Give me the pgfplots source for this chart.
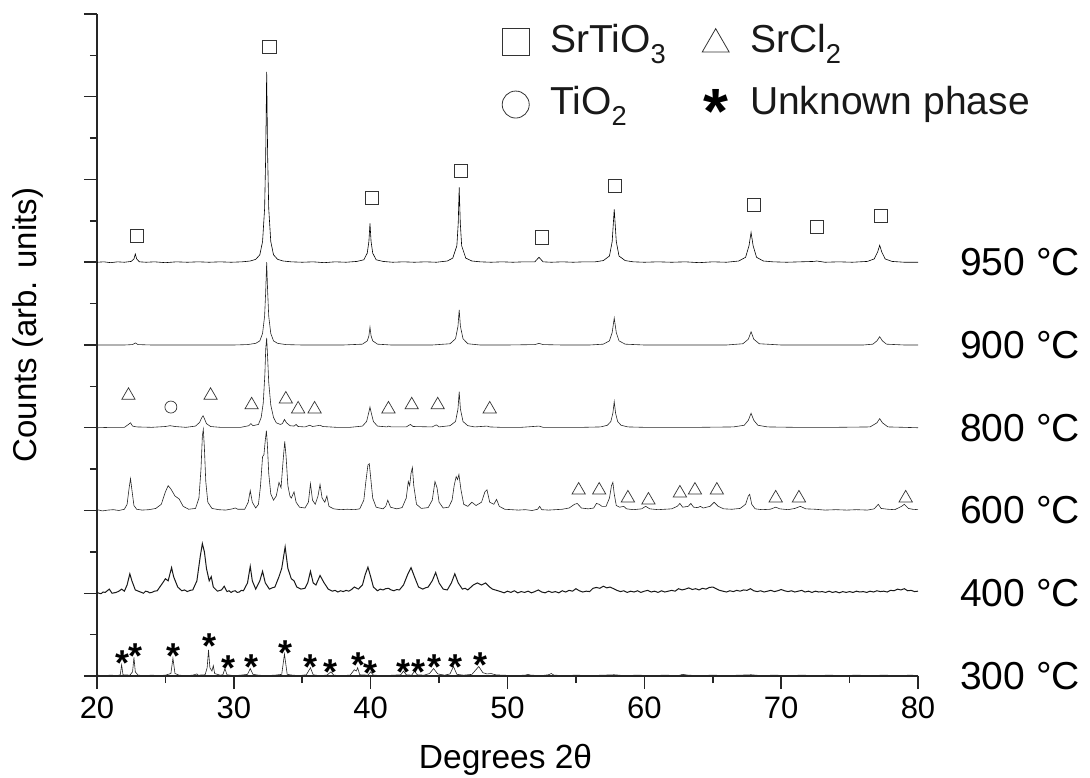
\documentclass[border=0pt]{standalone}
\usepackage{fontspec}
\setmainfont{Liberation Sans}
\usepackage{pgfplots}
\usepackage{pgfplotstable}
\pgfplotsset{compat=1.18}
\newcommand{\astmark}{\smash{\raisebox{-0.585em}{\bfseries *}}}
\begin{document}
\pgfplotstableread{
x y
20.0 10.00
20.5 10.01
21.0 9.99
21.5 10.01
22.0 10.00
22.5 10.02
22.7 10.08
22.8 10.20
22.9 10.08
23.1 10.01
23.6 10.00
24.2 10.01
25.0 9.99
25.8 10.01
26.6 10.00
27.4 10.01
28.2 10.00
29.0 10.01
29.8 10.00
30.6 10.01
31.2 10.03
31.6 10.07
31.9 10.18
32.1 10.5
32.25 11.3
32.33 12.6
32.4 14.6
32.47 12.6
32.55 11.3
32.7 10.5
32.9 10.18
33.2 10.07
33.6 10.03
34.2 10.01
35.0 10.00
35.8 10.01
36.6 9.99
37.4 10.01
38.2 10.00
39.0 10.02
39.5 10.06
39.75 10.22
39.87 10.5
39.95 10.94
40.03 10.5
40.15 10.22
40.4 10.06
40.9 10.02
41.6 10.00
42.4 10.01
43.2 10.00
44.0 10.01
44.8 10.00
45.6 10.03
46.0 10.1
46.3 10.4
46.4 10.95
46.47 11.81
46.55 10.95
46.65 10.4
46.95 10.1
47.4 10.03
48.0 10.01
48.8 10.00
49.6 10.01
50.4 10.00
51.2 10.01
52.0 10.01
52.3 10.12
52.6 10.01
53.2 10.00
54.0 10.01
54.8 10.00
55.6 10.01
56.4 10.01
57.0 10.04
57.45 10.15
57.65 10.5
57.8 11.28
57.95 10.5
58.15 10.15
58.6 10.04
59.2 10.01
60.0 10.00
61.0 10.01
62.0 10.00
63.0 10.01
64.0 9.99
65.0 10.01
66.0 10.00
66.9 10.03
67.4 10.12
67.65 10.4
67.8 10.72
67.95 10.4
68.2 10.12
68.7 10.03
69.4 10.01
70.4 10.00
71.4 10.01
72.4 10.02
72.6 10.03
73.2 10.00
74.2 10.01
75.2 10.00
76.3 10.02
76.8 10.08
77.05 10.25
77.2 10.41
77.35 10.25
77.6 10.08
78.1 10.02
79.0 10.00
80.0 10.00
}\tA
\pgfplotstableread{
x y
20.0 8.00
21.0 8.00
22.0 8.00
22.6 8.01
22.8 8.05
23.0 8.01
24.0 8.00
25.0 8.00
26.0 8.00
27.0 8.00
28.0 8.00
29.0 8.00
30.0 8.00
31.0 8.01
31.6 8.04
31.9 8.10
32.1 8.28
32.25 8.7
32.33 9.3
32.4 10.0
32.47 9.3
32.55 8.7
32.7 8.28
32.9 8.10
33.2 8.04
33.8 8.01
35.0 8.00
36.5 8.00
38.0 8.00
39.4 8.02
39.75 8.10
39.87 8.22
39.95 8.43
40.03 8.22
40.15 8.10
40.5 8.02
41.5 8.00
43.0 8.00
44.5 8.00
45.8 8.03
46.2 8.15
46.38 8.45
46.47 8.85
46.56 8.45
46.75 8.15
47.1 8.03
48.0 8.00
50.0 8.00
52.0 8.01
52.3 8.04
52.6 8.01
54.0 8.00
56.0 8.00
57.0 8.02
57.45 8.10
57.65 8.30
57.8 8.65
57.95 8.30
58.15 8.10
58.6 8.02
60.0 8.00
62.0 8.00
64.0 8.00
66.0 8.00
67.2 8.03
67.6 8.14
67.8 8.32
68.0 8.14
68.4 8.03
70.0 8.00
72.0 8.00
74.0 8.00
76.0 8.00
76.7 8.02
77.0 8.10
77.2 8.20
77.4 8.10
77.7 8.02
79.0 8.00
80.0 8.00
}\tB
\pgfplotstableread{
x y
20.0 6.00
21.0 6.01
22.0 6.01
22.3 6.08
22.45 6.12
22.6 6.04
22.9 6.02
24.0 6.01
25.0 6.03
25.35 6.05
25.7 6.03
26.5 6.01
27.2 6.04
27.5 6.13
27.65 6.24
27.75 6.29
27.85 6.22
28.0 6.10
28.3 6.03
29.0 6.01
30.5 6.01
31.1 6.05
31.25 6.10
31.4 6.05
31.8 6.08
32.0 6.25
32.15 6.6
32.27 7.3
32.33 7.9
32.4 8.17
32.47 7.7
32.55 7.1
32.7 6.55
32.9 6.25
33.1 6.12
33.4 6.08
33.55 6.10
33.7 6.20
33.85 6.12
34.1 6.05
34.4 6.04
34.55 6.08
34.7 6.03
35.2 6.02
35.55 6.06
35.75 6.03
36.3 6.06
36.5 6.03
37.5 6.01
38.5 6.01
39.4 6.04
39.7 6.15
39.85 6.35
39.95 6.50
40.05 6.35
40.2 6.15
40.5 6.04
41.2 6.02
41.3 6.04
41.5 6.02
42.6 6.02
42.9 6.08
43.1 6.03
44.5 6.02
44.8 6.07
45.0 6.02
45.8 6.05
46.2 6.15
46.38 6.45
46.47 6.87
46.56 6.45
46.75 6.15
47.1 6.05
47.6 6.02
48.5 6.04
48.7 6.02
49.5 6.01
51.0 6.01
52.3 6.04
52.6 6.01
54.0 6.01
55.5 6.01
56.8 6.02
57.3 6.06
57.55 6.15
57.7 6.35
57.8 6.63
57.9 6.35
58.05 6.15
58.3 6.06
58.8 6.02
60.0 6.01
62.0 6.01
64.0 6.01
66.5 6.02
67.3 6.06
67.6 6.18
67.8 6.35
68.0 6.18
68.3 6.06
69.0 6.02
71.0 6.01
74.0 6.01
76.5 6.02
77.0 6.12
77.2 6.22
77.4 6.12
77.8 6.02
79.0 6.01
80.0 6.00
}\tC
\pgfplotstableread{
x y
20.0 4.02
20.4 3.99
20.8 4.01
21.2 4.02
21.6 4.00
22.0 4.03
22.2 4.15
22.35 4.55
22.45 4.77
22.55 4.50
22.7 4.12
22.9 4.03
23.3 4.01
23.8 4.02
24.3 4.05
24.7 4.15
25.0 4.45
25.2 4.60
25.4 4.52
25.7 4.35
26.0 4.28
26.3 4.10
26.7 4.03
27.2 4.05
27.45 4.30
27.6 5.00
27.7 5.80
27.77 5.96
27.85 5.50
27.95 4.70
28.1 4.20
28.4 4.05
28.9 4.02
29.4 4.01
29.9 4.04
30.1 4.06
30.3 4.03
30.8 4.03
31.05 4.20
31.2 4.48
31.35 4.20
31.6 4.06
31.8 4.15
31.95 4.60
32.1 5.30
32.2 5.35
32.3 5.70
32.38 5.93
32.45 5.60
32.55 4.90
32.7 4.40
32.9 4.25
33.1 4.35
33.3 4.68
33.45 4.55
33.6 5.20
33.72 5.67
33.82 5.30
33.95 4.60
34.1 4.35
34.2 4.30
34.4 4.45
34.55 4.20
34.8 4.08
35.2 4.06
35.45 4.20
35.6 4.65
35.75 4.25
35.95 4.15
36.15 4.35
36.3 4.63
36.45 4.30
36.65 4.20
36.8 4.35
36.95 4.10
37.3 4.04
37.8 4.02
38.3 4.03
38.8 4.02
39.2 4.04
39.5 4.25
39.65 4.70
39.8 5.10
39.9 5.13
40.0 4.80
40.15 4.30
40.4 4.08
40.9 4.04
41.1 4.10
41.25 4.25
41.45 4.08
41.9 4.04
42.3 4.07
42.6 4.30
42.75 4.70
42.85 4.60
42.95 4.90
43.05 5.04
43.15 4.60
43.35 4.15
43.7 4.05
44.2 4.07
44.5 4.25
44.7 4.70
44.85 4.55
45.0 4.20
45.3 4.06
45.7 4.08
45.95 4.25
46.1 4.60
46.25 4.82
46.35 4.75
46.45 4.87
46.6 4.50
46.8 4.15
47.1 4.10
47.4 4.20
47.7 4.12
48.1 4.20
48.35 4.45
48.5 4.50
48.7 4.20
49.0 4.15
49.2 4.27
49.4 4.10
49.8 4.03
50.3 4.02
50.8 4.01
51.3 4.02
51.8 4.00
52.2 4.03
52.35 4.10
52.5 4.02
53.0 4.01
53.5 4.02
54.0 4.03
54.5 4.06
54.9 4.15
55.1 4.17
55.4 4.06
55.9 4.04
56.3 4.06
56.5 4.17
56.7 4.15
56.9 4.10
57.2 4.10
57.45 4.30
57.6 4.60
57.7 4.68
57.8 4.40
57.95 4.12
58.2 4.08
58.5 4.10
58.7 4.04
59.2 4.02
59.8 4.04
60.1 4.10
60.4 4.04
61.0 4.02
61.5 4.03
62.0 4.04
62.4 4.10
62.6 4.17
62.8 4.08
63.2 4.10
63.4 4.17
63.6 4.08
63.9 4.07
64.1 4.10
64.3 4.06
64.8 4.10
65.1 4.20
65.4 4.10
65.8 4.04
66.4 4.03
67.0 4.05
67.4 4.15
67.6 4.35
67.7 4.39
67.85 4.15
68.1 4.04
68.6 4.02
69.2 4.03
69.6 4.08
69.9 4.04
70.5 4.02
71.0 4.05
71.4 4.10
71.8 4.04
72.5 4.03
73.2 4.01
74.0 4.02
74.8 4.01
75.5 4.02
76.3 4.01
76.8 4.04
77.1 4.15
77.3 4.05
77.8 4.03
78.3 4.02
78.8 4.10
79.0 4.15
79.3 4.05
79.6 4.03
80.0 4.02
}\tD
\pgfplotstableread{
x y
20.0 2.02
20.15 2.00
20.3 1.99
20.45 2.03
20.6 2.02
20.9 2.10
21.1 2.00
21.4 2.02
21.6 2.05
21.8 2.10
22.0 2.05
22.2 2.20
22.4 2.47
22.55 2.30
22.8 2.08
23.1 2.04
23.25 2.02
23.4 2.00
23.55 2.05
23.7 2.04
23.85 2.01
24.0 2.02
24.2 2.05
24.4 2.06
24.8 2.25
25.0 2.35
25.2 2.30
25.45 2.62
25.6 2.40
25.9 2.15
26.2 2.06
26.4 2.08
26.6 2.04
26.8 2.07
27.0 2.08
27.3 2.30
27.55 2.90
27.7 3.20
27.85 3.00
28.0 2.60
28.2 2.30
28.35 2.40
28.5 2.15
28.8 2.05
29.1 2.08
29.3 2.17
29.5 2.04
29.65 2.06
29.8 2.02
29.95 2.05
30.1 2.06
30.25 2.02
30.4 2.03
30.55 2.07
30.7 2.06
31.0 2.25
31.2 2.65
31.35 2.30
31.6 2.10
31.9 2.30
32.1 2.53
32.3 2.25
32.6 2.10
32.8 2.13
33.0 2.15
33.3 2.40
33.5 2.60
33.75 3.12
33.95 2.60
34.2 2.35
34.4 2.30
34.6 2.15
34.9 2.10
35.2 2.12
35.4 2.25
35.6 2.53
35.8 2.25
36.0 2.20
36.3 2.43
36.6 2.25
36.9 2.10
37.2 2.05
37.4 2.07
37.6 2.03
37.8 2.06
38.0 2.04
38.2 2.07
38.4 2.05
38.6 2.09
38.8 2.15
39.1 2.10
39.4 2.20
39.6 2.45
39.8 2.63
40.0 2.40
40.2 2.15
40.5 2.06
40.7 2.10
40.9 2.08
41.1 2.11
41.3 2.12
41.5 2.08
41.7 2.06
41.9 2.09
42.1 2.08
42.4 2.20
42.7 2.45
42.95 2.62
43.2 2.40
43.5 2.15
43.8 2.10
44.0 2.13
44.2 2.15
44.5 2.30
44.75 2.50
45.0 2.25
45.3 2.10
45.6 2.08
45.9 2.25
46.15 2.47
46.4 2.25
46.7 2.10
46.9 2.12
47.1 2.08
47.3 2.14
47.5 2.20
47.8 2.25
48.1 2.20
48.4 2.25
48.7 2.15
48.9 2.10
49.1 2.08
49.3 2.06
49.5 2.04
49.75 2.01
50.0 2.05
50.25 2.02
50.5 2.06
50.75 2.01
51.0 2.04
51.25 2.02
51.5 2.05
51.75 2.01
52.0 2.04
52.25 2.08
52.5 2.03
52.75 2.01
53.0 2.05
53.25 2.02
53.5 2.04
53.75 2.01
54.0 2.06
54.25 2.03
54.5 2.07
54.75 2.05
55.0 2.11
55.25 2.06
55.5 2.03
55.75 2.05
56.0 2.04
56.25 2.12
56.5 2.14
56.75 2.12
57.0 2.17
57.25 2.13
57.5 2.15
57.75 2.11
58.0 2.07
58.25 2.04
58.5 2.06
58.75 2.02
59.0 2.05
59.25 2.03
59.5 2.06
59.75 2.02
60.0 2.05
60.25 2.07
60.5 2.03
60.75 2.05
61.0 2.02
61.25 2.06
61.5 2.03
61.75 2.05
62.0 2.07
62.25 2.05
62.5 2.11
62.75 2.08
63.0 2.10
63.25 2.13
63.5 2.09
63.75 2.11
64.0 2.08
64.25 2.12
64.5 2.10
64.75 2.14
65.0 2.15
65.25 2.11
65.5 2.07
65.75 2.05
66.0 2.03
66.25 2.06
66.5 2.04
66.75 2.07
67.0 2.05
67.25 2.08
67.5 2.07
67.75 2.11
68.0 2.06
68.25 2.04
68.5 2.06
68.75 2.03
69.0 2.05
69.25 2.07
69.5 2.04
69.75 2.06
70.0 2.09
70.25 2.06
70.5 2.04
70.75 2.06
71.0 2.03
71.25 2.05
71.5 2.07
71.75 2.03
72.0 2.05
72.25 2.02
72.5 2.05
72.75 2.03
73.0 2.04
73.25 2.02
73.5 2.05
73.75 2.02
74.0 2.04
74.25 2.01
74.5 2.04
74.75 2.02
75.0 2.04
75.25 2.02
75.5 2.05
75.75 2.03
76.0 2.04
76.25 2.02
76.5 2.05
76.75 2.03
77.0 2.06
77.25 2.04
77.5 2.05
77.75 2.03
78.0 2.07
78.25 2.06
78.5 2.10
78.75 2.08
79.0 2.11
79.25 2.06
79.5 2.07
79.75 2.04
80.0 2.05
}\tE
\pgfplotstableread{
x y
20.0 0.02
20.5 0.01
21.0 0.02
21.5 0.01
21.7 0.03
21.8 0.27
21.9 0.03
22.4 0.02
22.6 0.10
22.7 0.45
22.8 0.10
23.0 0.02
23.5 0.01
24.0 0.02
24.5 0.01
25.0 0.02
25.4 0.06
25.55 0.43
25.7 0.06
26.0 0.02
26.5 0.01
27.0 0.02
27.3 0.05
27.4 0.02
27.9 0.03
28.05 0.20
28.15 0.63
28.25 0.20
28.4 0.12
28.5 0.25
28.6 0.06
29.0 0.02
29.2 0.03
29.35 0.18
29.5 0.03
30.0 0.01
30.5 0.02
31.0 0.04
31.2 0.18
31.4 0.04
31.8 0.02
32.3 0.01
33.0 0.02
33.5 0.04
33.7 0.53
33.9 0.04
34.3 0.02
34.8 0.01
35.3 0.03
35.6 0.20
35.8 0.03
36.2 0.01
36.8 0.02
37.1 0.10
37.3 0.02
37.8 0.01
38.5 0.02
38.8 0.15
38.95 0.12
39.05 0.20
39.2 0.03
39.8 0.02
40.0 0.10
40.2 0.02
41.0 0.01
41.7 0.02
42.2 0.03
42.4 0.12
42.6 0.03
43.0 0.02
43.2 0.12
43.4 0.03
43.9 0.02
44.3 0.06
44.6 0.18
44.9 0.05
45.4 0.02
45.8 0.05
46.05 0.23
46.3 0.04
46.8 0.02
47.4 0.04
47.9 0.23
48.2 0.08
48.5 0.05
48.8 0.06
49.1 0.03
49.6 0.02
50.5 0.01
51.3 0.02
51.5 0.04
51.7 0.02
52.5 0.01
53.0 0.03
53.2 0.06
53.4 0.02
54.2 0.01
55.0 0.02
56.0 0.01
57.0 0.02
57.8 0.03
58.5 0.01
59.5 0.02
60.5 0.01
61.5 0.02
62.5 0.01
62.8 0.04
63.2 0.02
64.0 0.01
65.0 0.02
66.0 0.01
67.0 0.02
67.8 0.03
68.5 0.01
69.5 0.02
70.5 0.01
71.5 0.02
72.5 0.01
73.5 0.02
74.5 0.01
75.5 0.02
76.5 0.01
77.5 0.02
78.5 0.01
79.5 0.02
80.0 0.01
}\tF
\begin{tikzpicture}
\useasboundingbox (-97bp,-102bp) rectangle (993bp,676bp);
\begin{axis}[
  at={(0,0)}, anchor=south west,
  scale only axis, width=821bp, height=662bp,
  xmin=20, xmax=80, ymin=0, ymax=16,
  clip=false,
  axis lines*=left,
  axis line style={line width=1.5bp, black!85},
  tick align=outside,
  tick style={line width=1.5bp, black!85},
  major tick length=13bp, minor tick length=7bp,
  xtick={20,30,...,80}, minor xtick={25,35,...,75},
  ytick={0,2,...,16}, minor ytick={1,3,...,15},
  yticklabels={},
  /pgf/number format/assume math mode=true,
  xticklabel style={font=\fontsize{31bp}{36bp}\selectfont, anchor=base, yshift=-29bp},
  xlabel={Degrees 2θ},
  ylabel={Counts (arb. units)},
  xlabel style={font=\fontsize{33.5bp}{40bp}\selectfont, at={(axis description cs:0.4976,-0.139)}, anchor=base},
  ylabel style={font=\fontsize{33bp}{40bp}\selectfont, at={(axis description cs:-0.0731,0.530)}, anchor=base},
  legend columns=2,
  legend cell align=left,
  legend style={draw=none, fill=none, inner sep=0pt,
    at={(axis cs:49.6,15.78)}, anchor=north west,
    font=\fontsize{39bp}{46bp}\selectfont,
    nodes={inner sep=1bp, text=black!90},
    row sep=30bp,
    /tikz/every odd column/.append style={column sep=20bp},
    /tikz/every even column/.append style={column sep=35bp}},
  every axis plot/.append style={line width=0.6bp, black!85},
]
\addlegendimage{legend image code/.code={\draw[black!80, line width=0.8bp] plot[mark=square, mark size=13.5bp] coordinates {(0bp,-3bp)};}}
\addlegendentry{SrTiO\textsubscript{3}}
\addlegendimage{legend image code/.code={\draw[black!80, line width=0.8bp] plot[mark=triangle, mark size=15.5bp] coordinates {(0bp,-5bp)};}}
\addlegendentry{SrCl\textsubscript{2}}
\addlegendimage{legend image code/.code={\draw[black!80, line width=0.8bp] plot[mark=o, mark size=13.5bp] coordinates {(0bp,-3bp)};}}
\addlegendentry{TiO\textsubscript{2}}
\addlegendimage{legend image code/.code={\draw[black] plot[mark=text, text mark={\fontsize{64bp}{64bp}\selectfont\astmark}] coordinates {(0bp,5bp)};}}
\addlegendentry{Unknown phase}

\addplot[forget plot, black] table {\tA};
\addplot[forget plot] table {\tB};
\addplot[forget plot] table {\tC};
\addplot[forget plot] table {\tD};
\addplot[forget plot, line width=1.0bp, black!90] table {\tE};
\addplot[forget plot] table {\tF};

% SrTiO3 markers
\addplot[forget plot, only marks, mark=square, mark size=6.6bp, mark options={black!80, line width=0.7bp}] coordinates {
(22.9,10.63) (32.6,15.2) (40.1,11.55) (46.6,12.2) (52.5,10.6) (57.87,11.84) (68.0,11.38) (72.6,10.85) (77.3,11.13)};
% SrCl2 markers
\addplot[forget plot, only marks, mark=triangle, mark size=7.7bp, mark options={black!80, line width=0.7bp}] coordinates {
(22.3,6.78) (28.3,6.78) (31.3,6.55) (33.8,6.69) (34.7,6.45) (35.9,6.45) (41.3,6.45) (43.0,6.55) (44.9,6.55) (48.7,6.45)
(55.2,4.49) (56.7,4.49) (58.8,4.30) (60.3,4.25) (62.6,4.42) (63.7,4.49) (65.3,4.49) (69.6,4.30) (71.3,4.30) (79.1,4.30)};
% TiO2 marker
\addplot[forget plot, only marks, mark=o, mark size=6bp, mark options={black!80, line width=0.7bp}] coordinates {(25.4,6.5)};
% unknown phase markers
\addplot[forget plot, only marks, black, mark=text, text mark={\fontsize{36bp}{36bp}\selectfont\astmark}] coordinates {
(21.9,0.51) (22.85,0.70) (25.6,0.68) (28.2,0.94) (29.6,0.41) (31.3,0.43) (33.8,0.77) (35.6,0.43) (37.1,0.31) (39.1,0.48) (40.0,0.29) (42.4,0.31) (43.5,0.31) (44.7,0.43) (46.2,0.43) (48.0,0.48)};

\node[anchor=west, font=\fontsize{39bp}{46bp}\selectfont, inner sep=0pt, xshift=42bp] at (axis cs:80,10) {950 °C};
\node[anchor=west, font=\fontsize{39bp}{46bp}\selectfont, inner sep=0pt, xshift=42bp] at (axis cs:80,8) {900 °C};
\node[anchor=west, font=\fontsize{39bp}{46bp}\selectfont, inner sep=0pt, xshift=42bp] at (axis cs:80,6) {800 °C};
\node[anchor=west, font=\fontsize{39bp}{46bp}\selectfont, inner sep=0pt, xshift=42bp] at (axis cs:80,4) {600 °C};
\node[anchor=west, font=\fontsize{39bp}{46bp}\selectfont, inner sep=0pt, xshift=42bp] at (axis cs:80,2) {400 °C};
\node[anchor=west, font=\fontsize{39bp}{46bp}\selectfont, inner sep=0pt, xshift=42bp] at (axis cs:80,0) {300 °C};
\end{axis}
\end{tikzpicture}
\end{document}
